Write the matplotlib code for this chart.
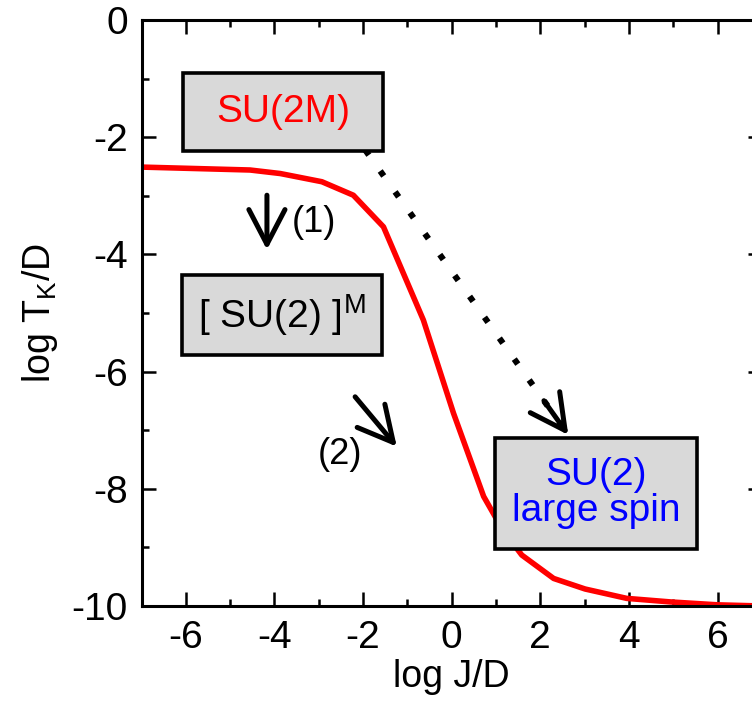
import matplotlib
matplotlib.use("Agg")
import matplotlib.pyplot as plt
from matplotlib.ticker import MultipleLocator
from matplotlib.patches import Rectangle

plt.rcParams["font.family"] = ["Liberation Sans", "DejaVu Sans"]
plt.rcParams["mathtext.fontset"] = "custom"
plt.rcParams["mathtext.rm"] = "Liberation Sans"
plt.rcParams["mathtext.it"] = "Liberation Sans"
plt.rcParams["axes.unicode_minus"] = False

# Kondo temperature vs. coupling
log_j = [-7.0, -4.55, -3.87, -2.93, -2.22, -1.54, -0.64, 0.04, 0.72, 1.15,
         1.58, 2.30, 3.01, 3.95, 4.93, 6.0, 7.0]
log_tk = [-2.51, -2.56, -2.62, -2.76, -2.99, -3.53, -5.12, -6.71, -8.13, -8.70,
          -9.13, -9.53, -9.71, -9.87, -9.93, -9.98, -10.0]

# labelled boxes: (x0, y0, x1, y1), text, colour
box_extents = [(-6.06, -2.23, -1.54, -0.90),
               (-6.09, -5.72, -1.58, -4.35),
               (0.98, -9.02, 5.53, -7.14)]
box_texts = ["SU(2M)", r"[ SU(2) ]$^{\mathrm{M}}$", "SU(2)\nlarge spin"]
box_colors = ["red", "black", "blue"]

# arrows: (tail, tip)
arrow1 = ((-4.17, -2.99), (-4.17, -3.92))
arrow2 = ((-2.18, -6.43), (-1.24, -7.28))
dotted = ((-1.95, -2.22), (2.63, -7.08))
label1 = ("(1)", -3.62, -3.46)
label2 = ("(2)", -3.02, -7.42)

fig = plt.figure(figsize=(7.52, 7.04), dpi=100)
ax = fig.add_axes([0.1882, 0.1392, 0.825, 0.8324])

ax.plot(log_j, log_tk, color="red", lw=4, zorder=2)

for (x0, y0, x1, y1), txt, col in zip(box_extents, box_texts, box_colors):
    ax.add_patch(Rectangle((x0, y0), x1 - x0, y1 - y0, facecolor="#d9d9d9",
                           edgecolor="black", lw=2.6, zorder=3))
    ax.text((x0 + x1) / 2, (y0 + y1) / 2, txt, color=col, fontsize=28,
            ha="center", va="center", linespacing=1.0, zorder=4)

head = "->,head_length=1.25,head_width=0.65"
for tail, tip in (arrow1, arrow2):
    ax.annotate("", xy=tip, xytext=tail,
                arrowprops=dict(arrowstyle=head, lw=3.6, color="black",
                                mutation_scale=20, shrinkA=0, shrinkB=0))

# dotted connector with a solid open head
(dx0, dy0), (dx1, dy1) = dotted
ax.plot([dx0, dx1], [dy0, dy1], color="black", lw=4.4,
        linestyle=(0, (1, 3.2)), dash_capstyle="butt", zorder=2)
ax.annotate("", xy=(dx1, dy1),
            xytext=(dx1 - 0.12 * (dx1 - dx0), dy1 - 0.12 * (dy1 - dy0)),
            arrowprops=dict(arrowstyle=head, lw=3.6, color="black",
                            mutation_scale=20, shrinkA=0, shrinkB=0))

for txt, x, y in (label1, label2):
    ax.text(x, y, txt, fontsize=26, ha="left", va="center")

ax.set_xlim(-7, 7)
ax.set_ylim(-10, 0)
ax.xaxis.set_major_locator(MultipleLocator(2))
ax.xaxis.set_minor_locator(MultipleLocator(1))
ax.yaxis.set_major_locator(MultipleLocator(2))
ax.yaxis.set_minor_locator(MultipleLocator(1))
ax.tick_params(which="both", direction="in", top=True, right=True, width=1.8,
               labelsize=28)
ax.tick_params(which="major", length=10)
ax.tick_params(which="minor", length=5)
ax.tick_params(axis="x", pad=10)
ax.tick_params(axis="y", pad=10)
for s in ax.spines.values():
    s.set_linewidth(2.2)

ax.set_xlabel("log J/D", fontsize=27, labelpad=2)
ax.set_ylabel(r"log T$_{\mathrm{K}}$/D", fontsize=27, labelpad=8)

fig.savefig("out.png", dpi=100)
